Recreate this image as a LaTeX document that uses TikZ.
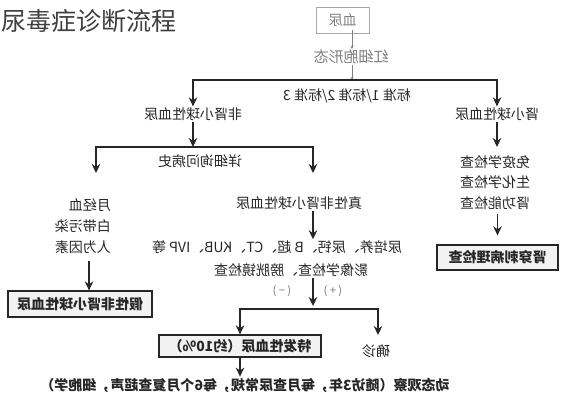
\documentclass[tikz,border=0pt]{standalone}
\usepackage{fontspec}
\usepackage{graphicx}
\setmainfont{Noto Sans CJK SC}
\usetikzlibrary{arrows.meta}
\newcommand\mirtxt[1]{\reflectbox{#1}}
\tikzset{
  ln/.style={line width=1.8pt, draw=black!85},
  arr/.style={ln, -{Stealth[length=9pt,width=8.5pt]}},
  thinarr/.style={line width=0.7pt, draw=black!50, -{Stealth[length=3pt,width=3pt]}},
  txt/.style={inner sep=1pt, text=black!85, font=\fontsize{14}{16}\selectfont},
  gtxt/.style={txt, text=black!50},
  stxt/.style={inner sep=1pt, text=black!55, font=\fontsize{11}{12}\selectfont},
  bbox/.style={draw=black!85, line width=1.3pt, fill=black!5, text=black!85,
    font=\fontsize{14}{16}\selectfont\bfseries, inner sep=0pt},
  gbox/.style={draw=black!35, line width=1pt, fill=white, text=black!50,
    font=\fontsize{14}{16}\selectfont, inner sep=0pt},
}
\begin{document}
\begin{tikzpicture}[x=1pt,y=-1pt]
\useasboundingbox (0,0) rectangle (562,400);
% title
\node[anchor=west, inner sep=0pt, text=black!75, font=\fontsize{25}{28}\selectfont] (title) at (1,21) {尿毒症诊断流程};
% top
\node[gbox, minimum width=53pt, minimum height=26pt] (xn) at (342.5,20) {\mirtxt{血尿}};
\node[gtxt, font=\fontsize{15}{16}\selectfont] (hxb) at (351,57) {\mirtxt{红细胞形态}};
\coordinate (j1) at (352,80);
\draw[thinarr] (j1 |- xn.south) ++(0,-4) -- (j1 |- hxb.north);
\draw[thinarr] (j1 |- hxb.south) -- (j1);
\node[txt] (std) at (347,96) {\mirtxt{标准 1/标准 2/标准 3}};
\node[txt] (n1) at (193,114) {\mirtxt{非肾小球性血尿}};
\node[txt] (n2) at (497,114) {\mirtxt{肾小球性血尿}};
\draw[arr] (j1) -| (n1.north);
\draw[arr] (j1) -| (n2.north);
% left branch
\coordinate (j2) at (193,147);
\coordinate (aL2) at (96,173);
\coordinate (aR2) at (313,173);
\draw[arr] (n1.south) -- (j2);
\draw[arr] (j2) -| (aL2);
\draw[arr] (j2) -| (aR2);
\node[txt] (xx) at (200,161) {\mirtxt{详细询问病史}};
\node[txt, anchor=east] (yj) at (112,205) {\mirtxt{月经血}};
\node[txt, anchor=east] (bd) at (112,226) {\mirtxt{白带污染}};
\node[txt, anchor=east] (rw) at (112,247) {\mirtxt{人为因素}};
\node[bbox, minimum width=144pt, minimum height=26pt] (jia) at (80,304) {\mirtxt{假性非肾小球性血尿}};
\coordinate (a3) at (89,261);
\draw[arr] (a3) -- (a3 |- jia.north);
% middle branch
\node[txt] (zx) at (299,203) {\mirtxt{真性非肾小球性血尿}};
\node[txt] (nl1) at (277,247) {\mirtxt{尿培养、尿钙、B 超、CT、KUB、IVP 等}};
\node[txt] (nl2) at (291,270) {\mirtxt{影像学检查、膀胱镜检查}};
\draw[arr] (zx.south -| aR2) -- (aR2 |- nl1.north);
\coordinate (j4) at (313,309);
\coordinate (jm) at (313,306);
\draw[arr] (nl2.south -| jm) -- (jm);
\node[stxt] (neg) at (282,291) {\mirtxt{( − )}};
\node[stxt] (pos) at (333,291) {\mirtxt{( + )}};
\node[bbox, minimum width=162pt, minimum height=22pt] (tf) at (240,346) {\mirtxt{特发性血尿（约10\%）}};
\coordinate (aqz) at (378,335);
\draw[arr] (j4) -| (tf.north);
\draw[arr] (j4) -| (aqz);
\node[txt] (qz) at (376,351) {\mirtxt{确诊}};
\node[txt, font=\fontsize{14}{16}\selectfont\bfseries] (bt) at (245,385) {\mirtxt{动态观察（随访3年，每月查尿常规，每6个月复查超声，细胞学）}};
\draw[arr] (tf.south) -- (tf.south |- bt.north);
% right branch
\coordinate (aR1) at (497,147);
\draw[arr] (n2.south) -- (aR1);
\node[txt] (my) at (495,162) {\mirtxt{免疫学检查}};
\node[txt] (sh) at (495,182) {\mirtxt{生化学检查}};
\node[txt] (sg) at (495,203) {\mirtxt{肾功能检查}};
\node[bbox, minimum width=121pt, minimum height=25pt] (sc) at (497.5,257.5) {\mirtxt{肾穿刺病理检查}};
\draw[arr] ([yshift=-3pt]sg.south -| sc.north) -- ([yshift=9pt]sc.north);
\end{tikzpicture}
\end{document}
